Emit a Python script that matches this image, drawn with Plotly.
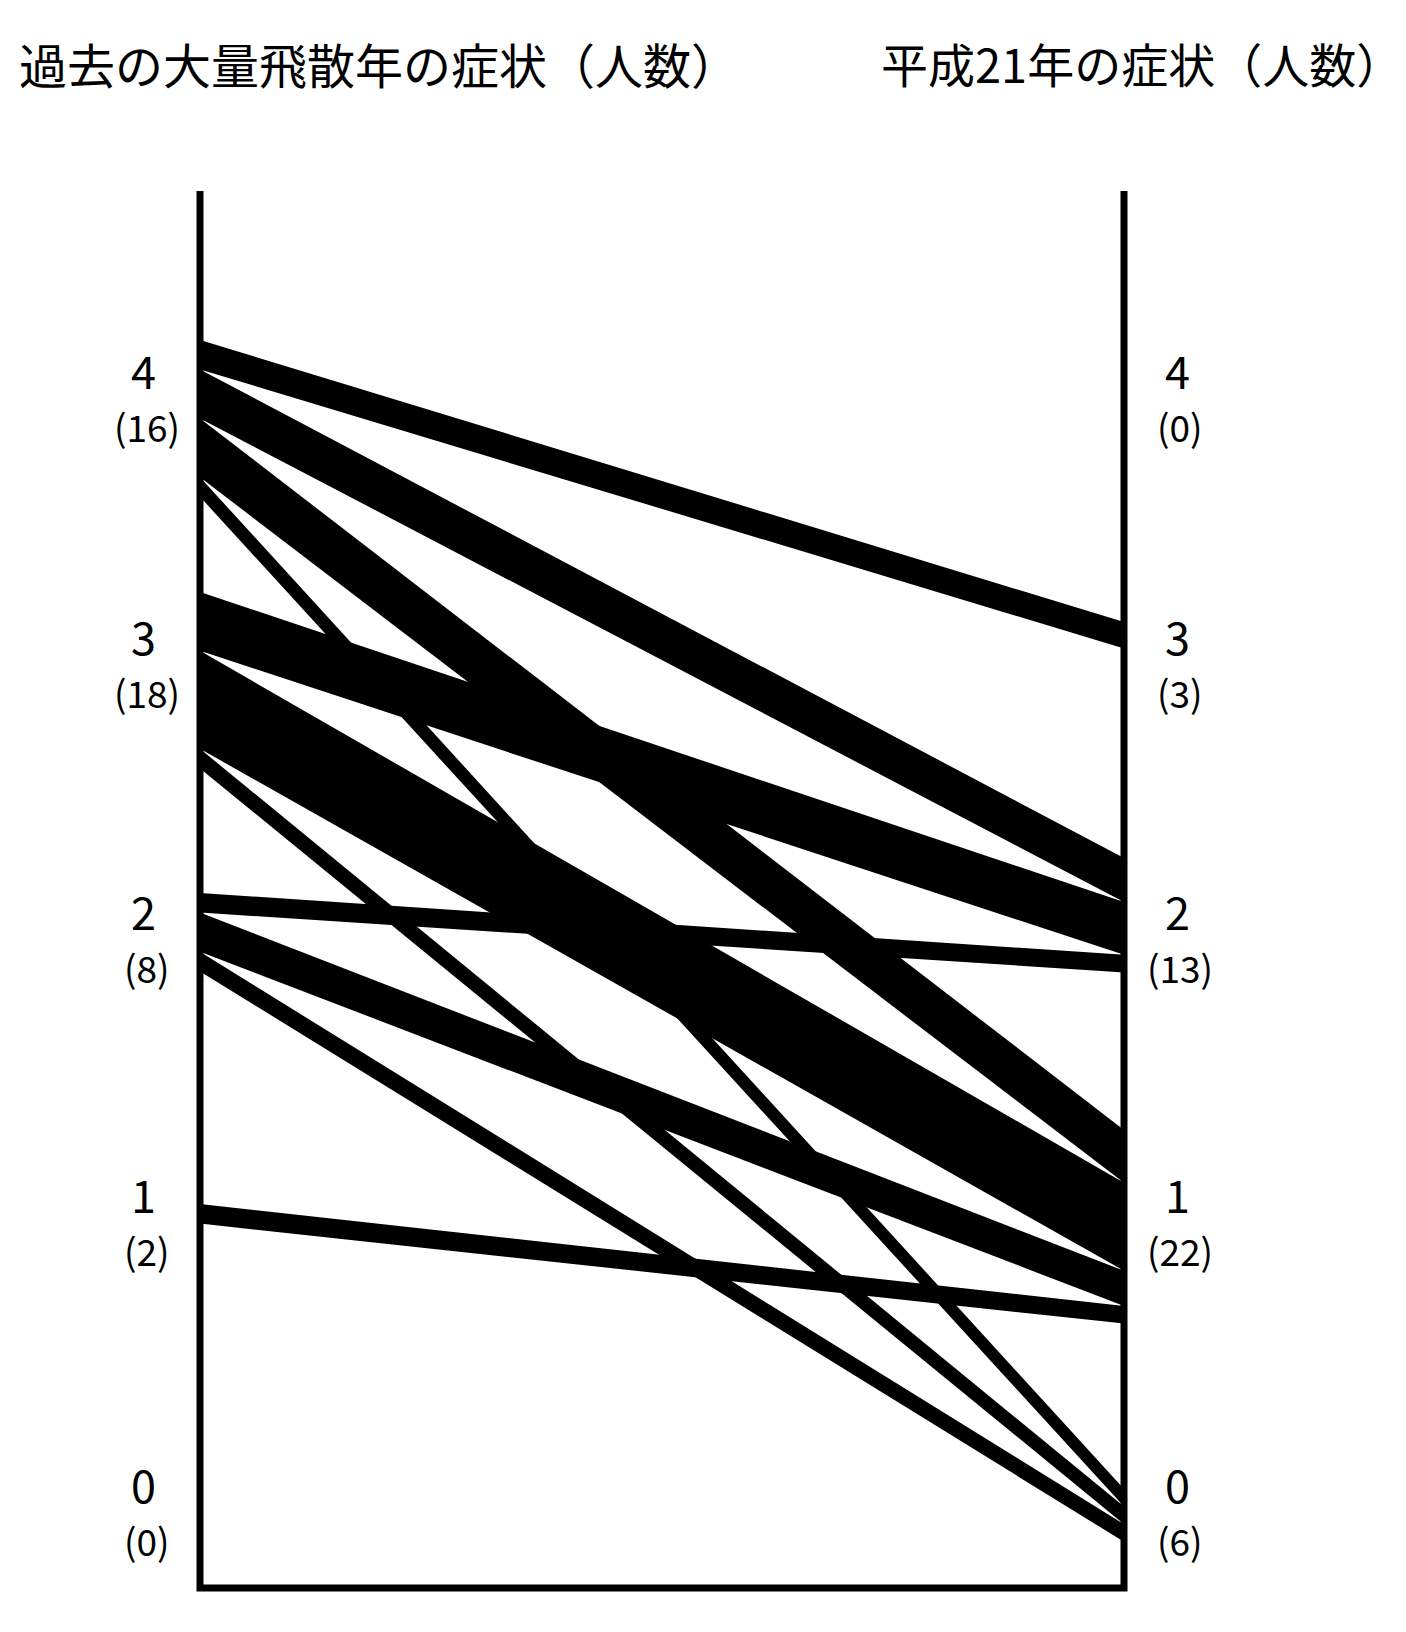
import plotly.graph_objects as go

# ---------------- data ----------------
levels = [4, 3, 2, 1, 0]
title_past = "過去の大量飛散年の症状（人数）"
title_now = "平成21年の症状（人数）"

# flows: past-peak-year symptom level -> 2009 (平成21年) symptom level, number of persons
flow_from = [4, 4, 4, 4, 3, 3, 3, 2, 2, 2, 1]
flow_to = [3, 2, 1, 0, 2, 1, 0, 2, 1, 0, 1]
flow_n = [3, 5, 6, 2, 6, 10, 2, 2, 4, 2, 2]

# ---------------- layout constants ----------------
W, H = 1406, 1632
AXIS_L_PX, AXIS_R_PX = 200, 1124          # pixel x of the two vertical axes
AXIS_TOP, AXIS_BOTTOM = 191, 1588         # frame extent (y units = px)
LEFT_STACK_TOP = {4: 340, 3: 592, 2: 893, 1: 1204, 0: 1486}
RIGHT_STACK_TOP = {4: 376, 3: 622, 2: 858, 1: 1130, 0: 1489}
LABEL_Y = {4: 369, 3: 635, 2: 910, 1: 1193, 0: 1483}
PAREN_DY = 57
PX_PER_PERSON_L = 9.8
PX_PER_PERSON_R = 8.8
FONT = "Noto Sans CJK JP"

# ---------------- stacking ----------------
left_tot = {lv: sum(n for f, n in zip(flow_from, flow_n) if f == lv) for lv in levels}
right_tot = {lv: sum(n for t, n in zip(flow_to, flow_n) if t == lv) for lv in levels}

idx = list(range(len(flow_n)))
left_off, right_off = {}, {}
for lv in levels:
    acc = 0.0
    for i in sorted([i for i in idx if flow_from[i] == lv], key=lambda i: -flow_to[i]):
        left_off[i] = acc
        acc += flow_n[i]
    acc = 0.0
    for i in sorted([i for i in idx if flow_to[i] == lv], key=lambda i: -flow_from[i]):
        right_off[i] = acc
        acc += flow_n[i]

fig = go.Figure()
for i in idx:
    yl0 = LEFT_STACK_TOP[flow_from[i]] + left_off[i] * PX_PER_PERSON_L
    yl1 = yl0 + flow_n[i] * PX_PER_PERSON_L
    yr0 = RIGHT_STACK_TOP[flow_to[i]] + right_off[i] * PX_PER_PERSON_R
    yr1 = yr0 + flow_n[i] * PX_PER_PERSON_R
    fig.add_trace(go.Scatter(
        x=[0, 1, 1, 0, 0], y=[yl0, yr0, yr1, yl1, yl0],
        mode="lines", fill="toself", fillcolor="black",
        line=dict(width=0, color="black"),
        hoverinfo="text",
        text=f"{flow_from[i]} → {flow_to[i]}: {flow_n[i]}人",
        showlegend=False,
    ))

# frame (open at top)
fig.add_shape(type="path",
              path=f"M 0,{AXIS_TOP} L 0,{AXIS_BOTTOM} L 1,{AXIS_BOTTOM} L 1,{AXIS_TOP}",
              xref="x", yref="y", line=dict(color="black", width=7), layer="above")

annotations = []
for lv in levels:
    for x, num_shift, par_shift, tot in [(0, -57, -53, left_tot), (1, 53, 56, right_tot)]:
        annotations.append(dict(x=x, y=LABEL_Y[lv], xref="x", yref="y", xshift=num_shift,
                                text=str(lv), showarrow=False, xanchor="center", yanchor="middle",
                                font=dict(family=FONT, size=45, color="black")))
        annotations.append(dict(x=x, y=LABEL_Y[lv] + PAREN_DY, xref="x", yref="y", xshift=par_shift,
                                text=f"({tot[lv]})", showarrow=False, xanchor="center", yanchor="middle",
                                font=dict(family=FONT, size=37, color="black")))

annotations.append(dict(x=17 / W, y=1 - 63 / H, xref="paper", yref="paper",
                        text=title_past, showarrow=False, xanchor="left", yanchor="middle",
                        font=dict(family=FONT, size=48, color="black")))
annotations.append(dict(x=879 / W, y=1 - 63 / H, xref="paper", yref="paper",
                        text=title_now, showarrow=False, xanchor="left", yanchor="middle",
                        font=dict(family=FONT, size=47, color="black")))

plot_w = AXIS_R_PX - AXIS_L_PX
fig.update_layout(
    width=W, height=H, autosize=False,
    margin=dict(l=0, r=0, t=0, b=0, pad=0),
    paper_bgcolor="white", plot_bgcolor="white",
    xaxis=dict(range=[-AXIS_L_PX / plot_w, (W - AXIS_L_PX) / plot_w], visible=False, fixedrange=True),
    yaxis=dict(range=[H, 0], visible=False, fixedrange=True),
    annotations=annotations,
    showlegend=False,
)

fig.write_html("out.html", post_script="document.body.style.margin='0';",
               config={"displayModeBar": False})
